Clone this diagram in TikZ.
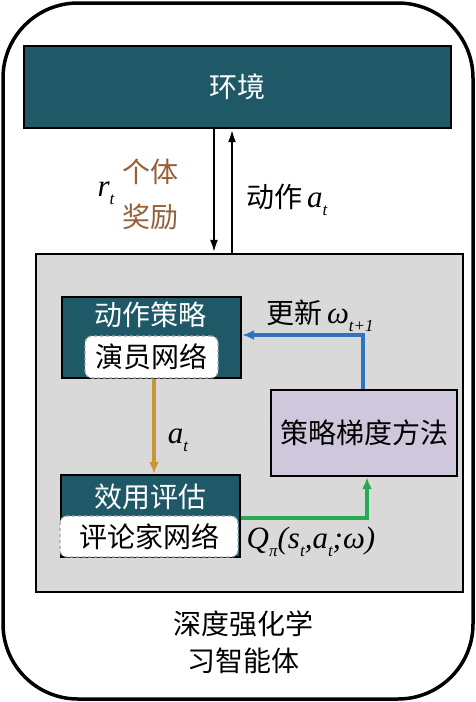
\documentclass[tikz,border=0pt]{standalone}
\usepackage{fontspec}
\setmainfont{Liberation Serif}
\newfontfamily\tms{Liberation Serif}
\newfontfamily\cjk{Noto Sans CJK SC}
\usetikzlibrary{arrows.meta}
\definecolor{teal1}{RGB}{31,89,103}
\definecolor{grayfill}{RGB}{217,217,217}
\definecolor{lav}{RGB}{207,199,220}
\definecolor{brownt}{RGB}{150,95,55}
\definecolor{goldc}{RGB}{200,150,50}
\definecolor{bluec}{RGB}{45,115,190}
\definecolor{greenc}{RGB}{40,170,80}
\newcommand{\mysub}[1]{\raisebox{-8pt}{\tms\fontsize{17}{17}\selectfont\itshape #1}}
\newcommand{\mi}[1]{{\tms\fontsize{31}{34}\selectfont\itshape #1}}
\begin{document}
\begin{tikzpicture}[x=1pt,y=-1pt,
  cjkfont/.style={font=\cjk\fontsize{28}{32}\selectfont},
  tealbox/.style={draw=black, line width=2.4pt, fill=teal1, inner sep=0pt},
  netbox/.style={draw=black!35, dashed, line width=1.2pt, fill=white, rounded corners=7pt, inner sep=0pt, cjkfont, text=black},
  lbl/.style={inner sep=0pt, cjkfont},
  arr/.style={line width=2.4pt, -{Latex[length=13pt,width=8pt]}},
  carr/.style={line width=3.4pt, -{Latex[length=12pt,width=10pt]}}
]
\useasboundingbox (0,0) rectangle (476,702);
\node[draw, line width=3.5pt, rounded corners=75pt, minimum width=470pt, minimum height=696pt, inner sep=0pt] (agent) at (238,351) {};
\node[tealbox, minimum width=427pt, minimum height=82pt, cjkfont, text=white] (env) at (237.5,87) {环境};
\node[draw=black, line width=2.4pt, fill=grayfill, minimum width=427pt, minimum height=338pt, inner sep=0pt] (gray) at (249.5,423) {};
% actor
\node[tealbox, minimum width=179pt, minimum height=81pt] (actor) at (151.5,337.5) {};
\node[lbl, text=white] (actort) at (150,315) {动作策略};
\node[netbox, minimum width=133pt, minimum height=42pt] (actornet) at (151.5,357) {演员网络};
% critic
\node[tealbox, minimum width=179pt, minimum height=82pt] (critic) at (150.5,516) {};
\node[lbl, text=white] (critict) at (150,497) {效用评估};
\node[netbox, minimum width=178pt, minimum height=41pt] (criticnet) at (149,536.5) {评论家网络};
% policy gradient
\node[draw=black, line width=2.4pt, fill=lav, minimum width=186pt, minimum height=86pt, inner sep=0pt, cjkfont] (pg) at (364,433) {策略梯度方法};
% env arrows
\coordinate (dnx) at (214,0);
\coordinate (upx) at (232,0);
\draw[arr] (env.south -| dnx) -- (gray.north -| dnx);
\draw[arr] (gray.north -| upx) -- (env.south -| upx);
\node[inner sep=0pt] (rt) at (106,193) {\mi{r}\mysub{t}};
\node[lbl, text=brownt] (geti) at (150,172) {个体};
\node[lbl, text=brownt] (jiangli) at (150,217) {奖励};
\node[lbl] (act) at (287,200) {动作\,\mi{a}\mysub{t}};
% blue update
\coordinate (b1) at (363,335);
\draw[carr, bluec] (pg.north -| b1) |- (actor.east |- b1);
\node[lbl] (upd) at (320,316) {更新\,\mi{ω}\mysub{t+1}};
% gold
\coordinate (g1) at (154,0);
\draw[carr, goldc] (actor.south -| g1) -- (critic.north -| g1);
\node[inner sep=0pt] (atl) at (178,440) {\mi{a}\mysub{t}};
% green
\coordinate (g2) at (367,518);
\draw[carr, greenc] (critic.east |- g2) -| (pg.south -| g2);
\node[inner sep=0pt] (ql) at (311,542) {\mi{Q}\mysub{π}\mi{(s}\mysub{t}\mi{,a}\mysub{t}\mi{;ω)}};
% bottom
\node[lbl] (b1t) at (243,624) {深度强化学};
\node[lbl] (b2t) at (243,661) {习智能体};
\end{tikzpicture}
\end{document}
